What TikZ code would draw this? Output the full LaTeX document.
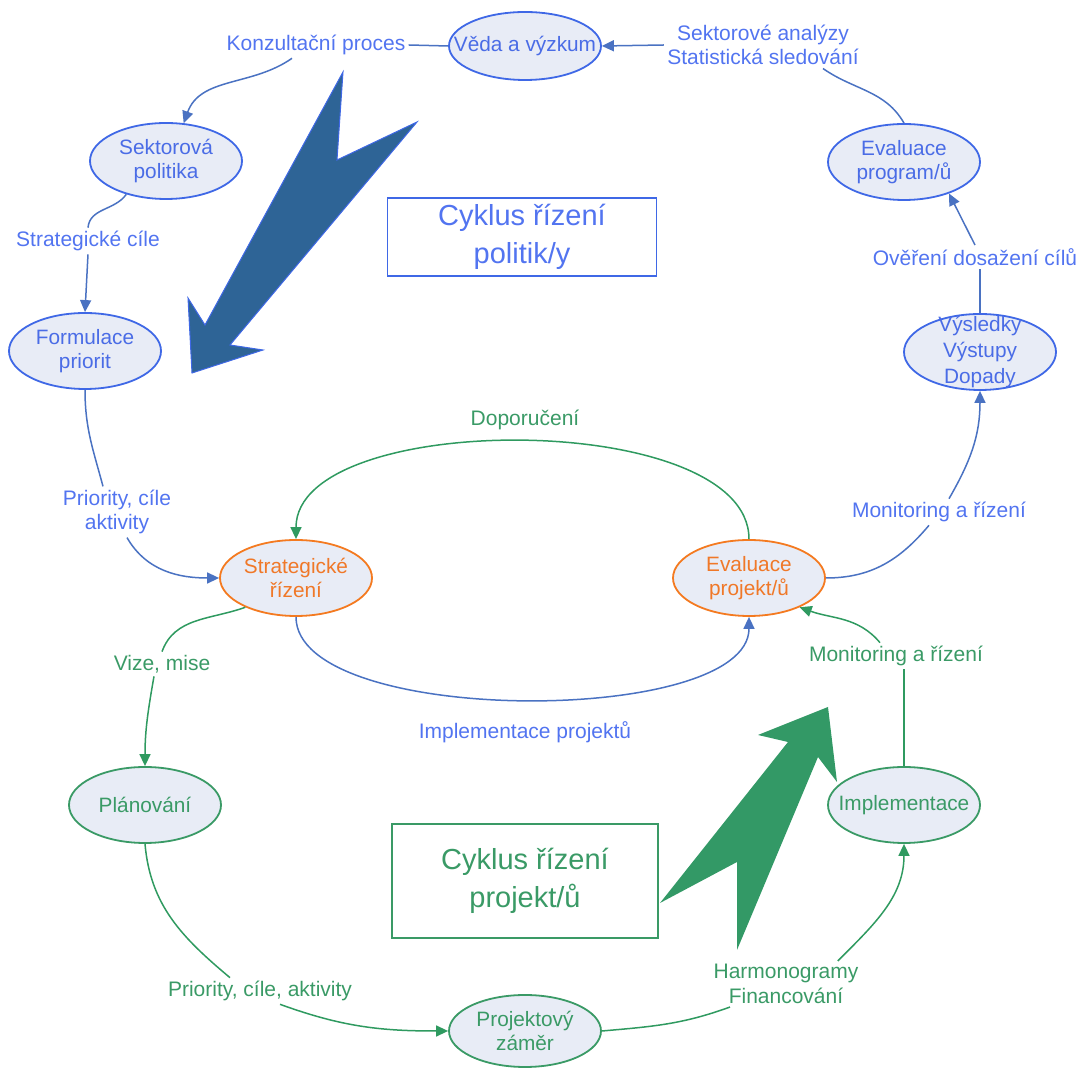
\documentclass[tikz,border=0pt]{standalone}
\usepackage{fontspec}
\setmainfont{Liberation Sans}
\usetikzlibrary{shapes.geometric,arrows.meta}
\definecolor{ellfill}{HTML}{E8ECF6}
\definecolor{blueedge}{HTML}{3F68E6}
\definecolor{bluetext}{HTML}{4A6CE6}
\definecolor{bluelabel}{HTML}{5274F0}
\definecolor{blueline}{HTML}{4A72C2}
\definecolor{greenedge}{HTML}{3A9A66}
\definecolor{greentext}{HTML}{3A9A66}
\definecolor{greenline}{HTML}{2F9A60}
\definecolor{orangeedge}{HTML}{F47A20}
\definecolor{orangetext}{HTML}{F07828}
\definecolor{bigblue}{HTML}{2E6496}
\definecolor{biggreen}{HTML}{339966}
\begin{document}
\begin{tikzpicture}[x=0.5pt,y=-0.5pt,
    stage/.style={ellipse,draw,line width=0.9pt,fill=ellfill,minimum width=76pt,minimum height=38pt,inner xsep=-10pt,inner ysep=-5pt,align=center,font=\fontsize{10.4}{12.3}\selectfont},
    bluestage/.style={stage,draw=blueedge,text=bluetext},
    greenstage/.style={stage,draw=greenedge,text=greentext},
    orangestage/.style={stage,draw=orangeedge,text=orangetext},
    flowtext/.style={inner sep=1.5pt,align=center,font=\fontsize{10.5}{12.3}\selectfont},
    bluetxt/.style={flowtext,text=bluelabel},
    greentxt/.style={flowtext,text=greentext},
    blueflow/.style={draw=blueline,line width=0.75pt},
    greenflow/.style={draw=greenline,line width=0.75pt},
    headed/.style={-{Triangle[length=6pt,width=5.5pt]}},
    cyclebox/.style={draw,line width=0.9pt,inner sep=0pt,align=center,font=\fontsize{14.5}{19}\selectfont}]
\useasboundingbox (0,0) rectangle (1083,1068);
\fill[bigblue,draw=blueedge,line width=0.5pt] (343,72) -- (337,160) -- (417,122) -- (230,345) -- (263,350) -- (192,373) -- (188,298) -- (205,325) -- cycle;
\fill[biggreen] (828,707) -- (758,735) -- (788,742) -- (660,903) -- (737,862) -- (737,950) -- (818,757) -- (837,782) -- cycle;
\node[cyclebox,draw=blueedge,text=bluelabel,minimum width=134.5pt,minimum height=39pt] (polbox) at (522,237) {Cyklus řízení\\politik/y};
\node[cyclebox,draw=greenedge,text=greentext,minimum width=133pt,minimum height=57pt] (projbox) at (525,881) {Cyklus řízení\\projekt/ů};
\node[bluestage,minimum height=34pt] (veda) at (525,46) {Věda a výzkum};
\node[bluestage] (sektor) at (166,161) {Sektorová\\politika};
\node[bluestage] (form) at (85,351) {Formulace\\priorit};
\node[orangestage] (strat) at (296,578) {Strategické\\řízení};
\node[orangestage] (evalp) at (749,578) {Evaluace\\projekt/ů};
\node[greenstage] (plan) at (145,805) {Plánování};
\node[greenstage,minimum height=36pt] (proj) at (525,1031) {Projektový\\záměr};
\node[greenstage] (impl) at (904,805) {Implementace};
\node[bluestage,font=\fontsize{10.4}{13.2}\selectfont] (vysl) at (980,352) {Výsledky\\Výstupy\\Dopady};
\node[bluestage] (evalprog) at (904,162) {Evaluace\\program/ů};
\node[bluetxt] (konz) at (316,45) {Konzultační proces};
\node[bluetxt] (sekt) at (763,45) {Sektorové analýzy\\Statistická sledování};
\node[bluetxt] (cile) at (88,241) {Strategické cíle};
\node[bluetxt] (prior) at (117,512) {Priority, cíle\\aktivity};
\node[bluetxt] (impltxt) at (525,732) {Implementace projektů};
\node[bluetxt] (monb) at (939,512) {Monitoring a řízení};
\node[bluetxt] (over) at (975,257) {Ověření dosažení cílů};
\node[greentxt] (dopor) at (525,420) {Doporučení};
\node[greentxt] (vize) at (162,664) {Vize, mise};
\node[greentxt] (mong) at (896,656) {Monitoring a řízení};
\node[greentxt] (priorg) at (260,991) {Priority, cíle, aktivity};
\node[greentxt] (harm) at (786,984) {Harmonogramy\\Financování};
\draw[blueflow] (veda.west) -- (konz.east);
\draw[blueflow,headed] ([xshift=-12pt]konz.south) to[out=-145,in=70] (sektor.65);
\draw[blueflow] (sektor.-140) to[out=-125,in=85] (cile.north);
\draw[blueflow,headed] (cile.south) -- (form.north);
\draw[blueflow] (form.south) to[out=-90,in=105] ([xshift=-7pt]prior.north);
\draw[blueflow,headed] ([xshift=5pt]prior.south) to[out=-60,in=180] (strat.west);
\draw[blueflow,headed] (strat.south) .. controls +(0,110) and +(0,110) .. (evalp.south);
\draw[greenflow,headed] (evalp.north) .. controls +(0,-130) and +(0,-130) .. (strat.north);
\draw[blueflow] (evalp.east) to[out=0,in=-130] ([xshift=-5pt]monb.south);
\draw[blueflow,headed] ([xshift=5pt]monb.north) to[out=60,in=-90] (vysl.south);
\draw[blueflow] (vysl.north) -- (vysl.north |- over.south);
\draw[blueflow,headed] (over.north) -- (evalprog.-35);
\draw[blueflow] (evalprog.north) to[out=120,in=-35] ([xshift=30pt]sekt.south);
\draw[blueflow,headed] (sekt.west) -- (veda.east);
\draw[greenflow] (strat.-150) to[out=-160,in=70] (vize.north);
\draw[greenflow,headed] ([xshift=-4pt]vize.south) to[out=-100,in=90] (plan.north);
\draw[greenflow] (plan.south) to[out=-85,in=140] ([xshift=-15pt]priorg.north);
\draw[greenflow,headed] ([xshift=10pt]priorg.south) to[out=-20,in=180] (proj.west);
\draw[greenflow] (proj.east) to[out=5,in=200] ([xshift=-28pt]harm.south);
\draw[greenflow,headed] ([xshift=-12pt]harm.north east) to[out=45,in=-90] (impl.south);
\draw[greenflow] (impl.north) -- (impl.north |- mong.south);
\draw[greenflow,headed] ([xshift=-8pt]mong.north) to[out=130,in=-20] (evalp.-30);
\end{tikzpicture}
\end{document}
